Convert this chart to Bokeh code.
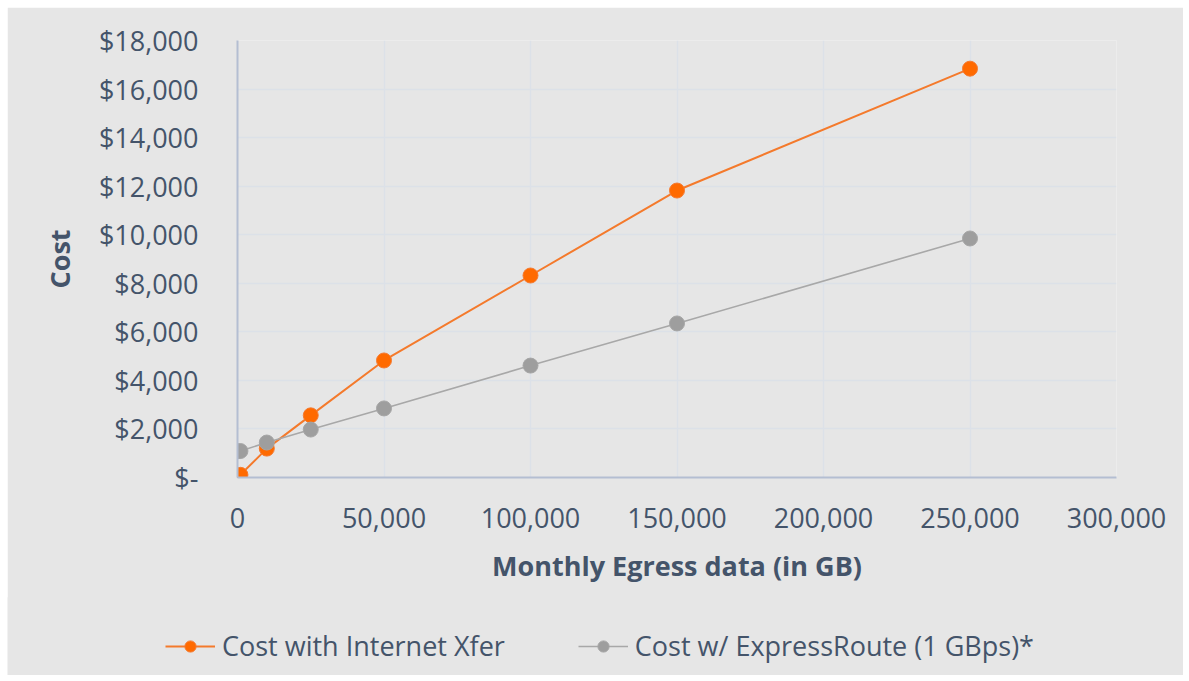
from bokeh.plotting import figure
from bokeh.models import Range1d, FixedTicker, Legend, LegendItem, NumeralTickFormatter
from bokeh.embed import file_html
from bokeh.resources import INLINE

# ---- data ----
egress_gb = [0, 1000, 10000, 25000, 50000, 100000, 150000, 250000]
cost_internet = [0, 110, 1190, 2560, 4820, 8320, 11820, 16840]
cost_expressroute = [1080, 1090, 1440, 1975, 2845, 4610, 6345, 9845]

x_ticks = [0, 50000, 100000, 150000, 200000, 250000, 300000]
y_ticks = [0, 2000, 4000, 6000, 8000, 10000, 12000, 14000, 16000, 18000]
y_labels = ["$-", "$2,000", "$4,000", "$6,000", "$8,000", "$10,000",
            "$12,000", "$14,000", "$16,000", "$18,000"]

series_names = ["Cost with Internet Xfer", "Cost w/ ExpressRoute (1 GBps)*"]

TXT = "#44546A"
BG = "#E6E6E6"
FONT = "Open Sans"
ORANGE_LINE, ORANGE_FILL, ORANGE_EDGE = "#F47A2C", "#FF6A00", "#F57A30"
GRAY_LINE, GRAY_FILL, GRAY_EDGE = "#A8A8A8", "#9E9E9E", "#A6A6A6"

p = figure(width=1176, height=591, output_backend="svg", toolbar_location=None,
           x_range=Range1d(0, 300000), y_range=Range1d(0, 18000),
           min_border_left=230, min_border_right=67, min_border_top=33,
           min_border_bottom=121)
p.margin = (7, 0, 0, 7)
p.background_fill_color = BG
p.border_fill_color = BG
p.outline_line_color = None

# grids
p.xgrid.ticker = FixedTicker(ticks=x_ticks)
p.ygrid.ticker = FixedTicker(ticks=y_ticks)
for g in (p.xgrid, p.ygrid):
    g.grid_line_color = "#DCE1E8"
    g.grid_line_width = 1.5

# axes
p.xaxis.ticker = FixedTicker(ticks=x_ticks)
p.xaxis.formatter = NumeralTickFormatter(format="0,0")
p.yaxis.ticker = FixedTicker(ticks=y_ticks)
p.yaxis.major_label_overrides = {t: l for t, l in zip(y_ticks, y_labels)}

for ax in (p.xaxis, p.yaxis):
    ax.axis_line_color = "#B4BED2"
    ax.axis_line_width = 2
    ax.major_tick_line_color = None
    ax.minor_tick_line_color = None
    ax.major_tick_in = 0
    ax.major_tick_out = 0
    ax.minor_tick_in = 0
    ax.minor_tick_out = 0
    ax.major_label_text_font = FONT
    ax.major_label_text_font_size = "27px"
    ax.major_label_text_color = TXT
    ax.axis_label_text_font = FONT
    ax.axis_label_text_font_size = "27px"
    ax.axis_label_text_font_style = "bold"
    ax.axis_label_text_color = TXT

p.xaxis.axis_label = "Monthly Egress data (in GB)"
p.yaxis.axis_label = "Cost"
p.xaxis.major_label_standoff = 30
p.xaxis.axis_label_standoff = 16
p.yaxis.major_label_standoff = 39
p.yaxis.axis_label_standoff = 18

# series
p.line(egress_gb, cost_internet, line_color=ORANGE_LINE, line_width=2)
p.scatter(egress_gb, cost_internet, size=15, fill_color=ORANGE_FILL,
          line_color=ORANGE_EDGE, line_width=1)
p.line(egress_gb, cost_expressroute, line_color=GRAY_LINE, line_width=1.6)
p.scatter(egress_gb, cost_expressroute, size=15, fill_color=GRAY_FILL,
          line_color=GRAY_EDGE, line_width=1)

# legend strip: separate root below the chart; its renderers hold the same
# series but the view range is set so that only the legend keys show
lg = figure(width=1176, height=78, output_backend="svg", toolbar_location=None,
            x_axis_type=None, y_axis_type=None,
            x_range=Range1d(-2, -1), y_range=Range1d(-2, -1),
            min_border_left=0, min_border_right=0, min_border_top=0,
            min_border_bottom=0)
lg.margin = (-1, 0, 0, 7)
lg.background_fill_color = BG
lg.border_fill_color = BG
lg.outline_line_color = None
lg.grid.visible = False
k1 = lg.line(egress_gb, cost_internet, line_color=ORANGE_LINE, line_width=2)
m1 = lg.scatter(egress_gb, cost_internet, size=15, fill_color=ORANGE_FILL,
                line_color=ORANGE_EDGE)
k2 = lg.line(egress_gb, cost_expressroute, line_color=GRAY_LINE, line_width=1.6)
m2 = lg.scatter(egress_gb, cost_expressroute, size=15, fill_color=GRAY_FILL,
                line_color=GRAY_EDGE)

legend = Legend(items=[LegendItem(label=series_names[0], renderers=[k1, m1]),
                       LegendItem(label=series_names[1], renderers=[k2, m2])],
                orientation="horizontal", location=(158, 11))
legend.background_fill_alpha = 0
legend.border_line_color = None
legend.padding = 0
legend.margin = 0
legend.spacing = 73
legend.glyph_width = 50
legend.glyph_height = 28
legend.label_standoff = 7
legend.label_text_font = FONT
legend.label_text_font_size = "27px"
legend.label_text_color = TXT
legend.label_height = 28
lg.add_layout(legend, "center")

open("out.html", "w").write(file_html([p, lg], INLINE))
